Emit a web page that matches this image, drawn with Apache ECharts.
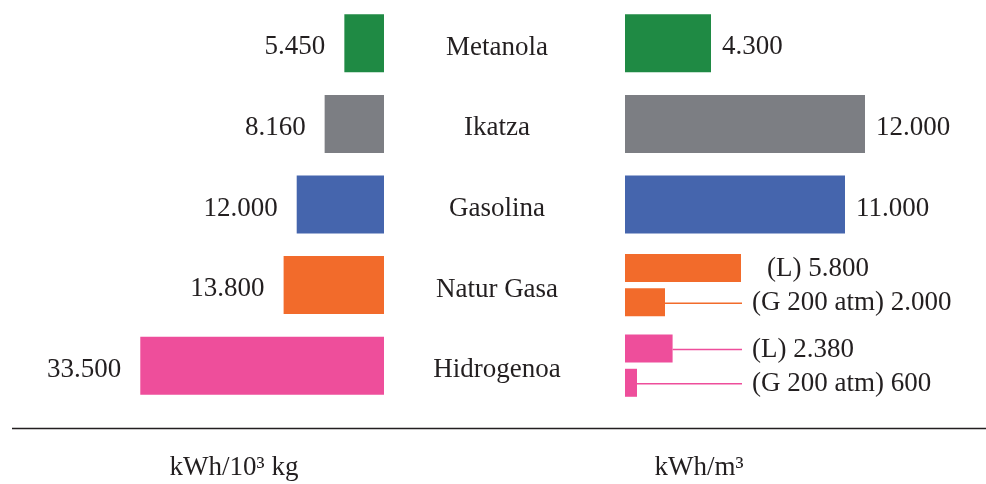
<!DOCTYPE html>
<html>
<head>
<meta charset="utf-8">
<script src="https://cdn.jsdelivr.net/npm/echarts@6/dist/echarts.min.js"></script>
<style>
  html, body { margin: 0; padding: 0; background: #fff; }
  #chart { width: 986px; height: 484px; }
</style>
</head>
<body>
<div id="chart"></div>
<script>
// Energy density of fuels: per mass (left) and per volume (right)
const categories = ['Metanola', 'Ikatza', 'Gasolina', 'Natur Gasa', 'Hidrogenoa'];
const colors = ['#1f8a44', '#7c7e83', '#4565ad', '#f26b2b', '#ee4e9b'];

// kWh / 10^3 kg
const massValues = [5450, 8160, 12000, 13800, 33500];
// kWh / m^3, single-value fuels (null where split into L / G)
const volumeValues = [4300, 12000, 11000, null, null];
// kWh / m^3, liquid and 200 atm gas forms
const liquidValues = [null, null, null, 5800, 2380];
const gasValues = [null, null, null, 2000, 600];

const liquidPrefix = '(L) ';
const gasPrefix = '(G 200 atm) ';
const unitLeft = 'kWh/10³ kg';
const unitRight = 'kWh/m³';

const fmt = v => v.toLocaleString('de-DE');

const FONT = 'Liberation Serif';
const TEXT = '#231f20';
const FS = 27;
const TEXT_SHIFT = 4;
const GAP = 10; // space between a leader line and its text

// label x positions for the split bars (L row of Natur Gasa sits clear of its bar)
const labelX = { liquid: [null, null, null, 767, 752], gas: [null, null, null, 752, 752] };

function colored(values) {
  return values.map((v, i) => v == null ? null : { value: v, itemStyle: { color: colors[i] } });
}

const chart = echarts.init(document.getElementById('chart'));

const textStyle = { fontFamily: FONT, fontSize: FS, color: TEXT };

function splitSeries(name, values, prefix, xs) {
  const s = {
    name: name,
    type: 'bar',
    xAxisIndex: 1,
    yAxisIndex: 2,
    barWidth: 28,
    barGap: '22%',
    data: colored(values),
    label: {
      show: true,
      position: 'right',
      distance: 0,
      ...textStyle,
      formatter: p => '{s|}' + prefix + fmt(p.value),
      rich: { s: { width: GAP } }
    },
    labelLayout: p => ({
      x: xs[p.dataIndex] - GAP,
      y: p.rect.y + p.rect.height / 2 + 1,
      align: 'left',
      verticalAlign: 'middle'
    }),
    labelLine: { show: true, lineStyle: { width: 1.5 } },
    silent: true
  };
  s.data.forEach((d, i) => {
    if (d) d.labelLine = { show: true, lineStyle: { color: colors[i], width: 1.5 } };
  });
  return s;
}

const liquid = splitSeries('L', liquidValues, liquidPrefix, labelX.liquid);
const gas = splitSeries('G', gasValues, gasPrefix, labelX.gas);
// Natur Gasa liquid label has no leader line
liquid.data[3].labelLine = { show: false };

chart.setOption({
  backgroundColor: '#ffffff',
  animation: false,
  grid: [
    { left: 93, right: 602, top: 3, bottom: 78 },
    { left: 625, right: 61, top: 3, bottom: 78 }
  ],
  xAxis: [
    { type: 'value', gridIndex: 0, min: 0, max: 40000, inverse: true, show: false },
    { type: 'value', gridIndex: 1, min: 0, max: 15000, show: false }
  ],
  yAxis: [
    {
      type: 'category', gridIndex: 0, data: categories, inverse: true,
      axisLine: { show: false }, axisTick: { show: false }, axisLabel: { show: false }
    },
    {
      type: 'category', gridIndex: 1, data: categories, inverse: true,
      axisLine: { show: false }, axisTick: { show: false },
      axisLabel: {
        show: true, align: 'center', margin: 128,
        verticalAlign: 'top', lineHeight: 9,
        fontFamily: FONT, fontSize: FS, color: TEXT
      }
    },
    {
      type: 'category', gridIndex: 1, data: categories, inverse: true, show: false
    }
  ],
  series: [
    {
      name: 'mass',
      type: 'bar',
      xAxisIndex: 0,
      yAxisIndex: 0,
      barWidth: 58,
      data: colored(massValues),
      label: {
        show: true, position: 'left', distance: 19, offset: [0, TEXT_SHIFT], ...textStyle,
        formatter: p => fmt(p.value)
      },
      silent: true
    },
    {
      name: 'volume',
      type: 'bar',
      xAxisIndex: 1,
      yAxisIndex: 1,
      barWidth: 58,
      data: colored(volumeValues),
      label: {
        show: true, position: 'right', distance: 11, offset: [0, TEXT_SHIFT], ...textStyle,
        formatter: p => fmt(p.value)
      },
      silent: true
    },
    liquid,
    gas
  ],
  graphic: [
    {
      type: 'line',
      shape: { x1: 12, y1: 428.5, x2: 986, y2: 428.5 },
      style: { stroke: '#231f20', lineWidth: 1.5 }
    },
    {
      type: 'text', x: 234, y: 468,
      style: { text: unitLeft, font: FS + 'px "' + FONT + '"', fill: TEXT, align: 'center', verticalAlign: 'middle' }
    },
    {
      type: 'text', x: 699, y: 468,
      style: { text: unitRight, font: FS + 'px "' + FONT + '"', fill: TEXT, align: 'center', verticalAlign: 'middle' }
    }
  ]
});
</script>
</body>
</html>
